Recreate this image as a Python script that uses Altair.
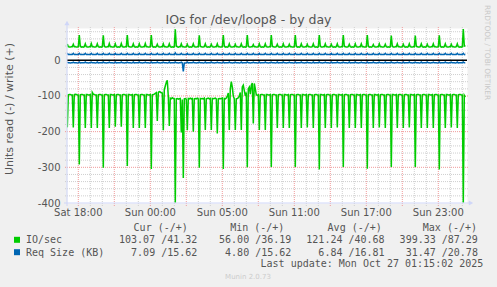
import altair as alt
import pandas as pd

# ---------------------------------------------------------------------------
# Data: one sample every 5 minutes.
# Sample index 0 is Sat 18:00 local time; the first sample is index -11.
# Each row below is one half hour (6 samples), starting with the burst sample.
# ---------------------------------------------------------------------------
FIRST_SAMPLE = -11
STEP_MINUTES = 5

io_write_rows = [
    [46, 38, 37, 37, 38, 38], [45, 38, 38, 37, 37, 38], [71, 39, 37, 38, 37, 38],
    [46, 38, 37, 37, 38, 38], [47, 38, 38, 37, 37, 38], [46, 38, 37, 38, 37, 38],
    [70, 39, 37, 37, 38, 38], [47, 38, 38, 37, 37, 38], [46, 38, 37, 38, 37, 38],
    [47, 38, 37, 37, 38, 38], [71, 39, 38, 37, 37, 38], [46, 38, 37, 38, 37, 38],
    [46, 38, 37, 37, 38, 38], [47, 38, 38, 37, 37, 38], [71, 39, 37, 38, 37, 38],
    [45, 38, 37, 37, 38, 38], [46, 38, 38, 37, 37, 38], [46, 38, 37, 38, 37, 38],
    [87, 40, 38, 37, 38, 38], [46, 38, 38, 37, 37, 38], [45, 38, 37, 38, 37, 38],
    [46, 38, 37, 37, 38, 38], [70, 39, 38, 37, 37, 38], [46, 38, 37, 38, 37, 38],
    [45, 38, 37, 37, 38, 38], [46, 38, 38, 37, 37, 38], [71, 39, 37, 38, 37, 38],
    [46, 38, 37, 37, 38, 38], [45, 38, 38, 37, 37, 38], [46, 38, 37, 38, 37, 38],
    [71, 39, 37, 37, 38, 38], [44, 38, 38, 37, 37, 38], [46, 38, 37, 38, 37, 38],
    [46, 38, 37, 37, 38, 38], [71, 39, 38, 37, 37, 38], [45, 38, 37, 38, 37, 38],
    [46, 38, 37, 37, 38, 38], [45, 38, 38, 37, 37, 38], [71, 39, 37, 38, 37, 38],
    [46, 38, 37, 37, 38, 38], [45, 38, 38, 37, 37, 38], [46, 38, 37, 38, 36.19, 38],
    [71, 39, 37, 37, 38, 38], [46, 38, 38, 37, 37, 38], [45, 38, 37, 38, 37, 38],
    [46, 38, 37, 37, 38, 38], [71, 39, 38, 37, 37, 38], [45, 38, 37, 38, 37, 38],
    [46, 38, 37, 37, 38, 38], [46, 38, 38, 37, 37, 38], [71, 39, 37, 38, 37, 38],
    [44, 38, 37, 37, 38, 38], [46, 38, 38, 37, 37, 38], [45, 38, 37, 38, 37, 38],
    [69, 39, 37, 37, 38, 38], [46, 38, 38, 37, 37, 38], [45, 38, 37, 38, 37, 38],
    [46, 38, 37, 37, 38, 38], [69, 39, 38, 37, 37, 38], [46, 38, 37, 38, 37, 38],
    [45, 38, 37, 37, 38, 38], [46, 38, 38, 37, 37, 38], [70, 39, 37, 38, 37, 38],
    [46, 38, 37, 37, 38, 38], [45, 38, 38, 37, 37, 38], [46, 38, 37, 38, 37, 38],
    [87.29, 40, 41.32],
]

io_read_rows = [
    [-188, -97, -96, -96, -97, -97], [-188, -96, -95, -96, -97, -97], [-292, -97, -96, -96, -97, -97],
    [-190, -96, -96, -97, -97, -96], [-190, -90, -95, -96, -97, -97], [-190, -97, -96, -96, -97, -97],
    [-301, -97, -96, -96, -97, -97], [-190, -96, -96, -97, -97, -96], [-186, -97, -96, -96, -97, -97],
    [-186, -97, -96, -96, -97, -97], [-296, -96, -96, -97, -97, -96], [-190, -97, -96, -96, -97, -97],
    [-190, -97, -96, -96, -97, -97], [-190, -96, -96, -97, -97, -96], [-305, -97, -96, -95, -93, -91],
    [-170, -90, -88, -89, -91, -92], [-196, -83, -72, -62, -56, -102], [-184, -106, -108, -105, -107, -108],
    [-399.33, -108, -107, -109, -108, -107], [-202, -110, -330, -108, -107, -109], [-196, -107, -108, -106, -108, -107],
    [-200, -108, -107, -108, -106, -108], [-301, -107, -108, -107, -108, -106], [-195, -108, -107, -106, -108, -107],
    [-195, -107, -108, -107, -106, -108], [-205, -108, -107, -108, -107, -106], [-305, -107, -108, -106, -100, -92],
    [-195, -80, -60, -75, -100, -108], [-195, -108, -107, -105, -100, -90], [-195, -75, -70, -85, -100, -90],
    [-300, -80, -75, -95, -70, -64], [-177, -65, -80, -97, -98, -97], [-195, -97, -96, -96, -97, -97],
    [-195, -96, -96, -97, -97, -96], [-299, -97, -96, -96, -97, -97], [-190, -97, -96, -96, -97, -97],
    [-190, -96, -96, -97, -97, -96], [-190, -97, -96, -96, -97, -97], [-299, -97, -96, -96, -97, -97],
    [-190, -96, -96, -97, -97, -96], [-188, -97, -96, -96, -97, -97], [-190, -97, -96, -96, -97, -97],
    [-306, -96, -96, -97, -97, -96], [-190, -97, -96, -96, -97, -97], [-190, -97, -96, -96, -97, -97],
    [-188, -96, -96, -97, -97, -96], [-299, -97, -96, -96, -97, -97], [-190, -97, -96, -96, -97, -97],
    [-190, -96, -96, -97, -97, -96], [-190, -97, -96, -96, -97, -97], [-304, -97, -96, -96, -97, -97],
    [-190, -96, -96, -97, -97, -96], [-188, -97, -96, -96, -97, -97], [-190, -97, -96, -96, -97, -97],
    [-299, -96, -96, -97, -97, -96], [-190, -97, -96, -96, -97, -97], [-190, -97, -96, -96, -97, -97],
    [-188, -96, -96, -97, -97, -96], [-299, -97, -96, -96, -97, -97], [-190, -97, -96, -96, -97, -97],
    [-190, -96, -96, -97, -97, -96], [-190, -97, -96, -96, -97, -97], [-306, -97, -96, -96, -97, -97],
    [-190, -96, -96, -97, -97, -96], [-188, -97, -96, -96, -97, -97], [-190, -97, -96, -96, -97, -97],
    [-399, -98, -103.07],
]

req_write_rows = [
    [19.5, 16.3, 16.3, 16.4, 16.3, 16.3], [19.4, 16.3, 16.3, 16.3, 16.4, 16.3], [19.6, 16.4, 16.3, 16.3, 16.3, 16.3],
    [19.5, 16.3, 16.3, 16.4, 16.3, 16.3], [19.4, 16.3, 16.3, 16.3, 16.4, 16.3], [19.5, 16.4, 16.3, 16.3, 16.3, 16.3],
    [19.6, 16.3, 16.3, 16.4, 16.3, 16.3], [19.5, 16.3, 16.3, 16.3, 16.4, 16.3], [19.4, 16.4, 16.3, 16.3, 16.3, 16.3],
    [19.5, 16.3, 16.3, 16.4, 16.3, 16.3], [19.6, 16.3, 16.3, 16.3, 16.4, 16.3], [19.5, 16.4, 16.3, 16.3, 16.3, 16.3],
    [19.4, 16.3, 16.3, 16.4, 16.3, 16.3], [19.5, 16.3, 16.3, 16.3, 16.4, 16.3], [19.6, 16.4, 16.3, 16.3, 16.3, 16.3],
    [19.5, 16.3, 16.3, 16.4, 16.3, 16.3], [19.4, 16.3, 16.3, 16.3, 16.4, 16.3], [19.5, 16.4, 16.3, 16.3, 16.3, 16.3],
    [20.78, 16.3, 16.3, 16.4, 16.3, 16.3], [19.5, 16.3, 16.3, 16.3, 16.4, 16.3], [19.4, 16.4, 16.3, 16.3, 16.3, 16.3],
    [19.5, 16.3, 16.3, 16.4, 16.3, 16.3], [19.6, 16.3, 16.3, 16.3, 16.4, 16.3], [19.5, 16.4, 16.3, 16.3, 16.3, 16.3],
    [19.4, 16.3, 16.3, 16.4, 16.3, 16.3], [19.5, 16.3, 16.3, 16.3, 16.4, 16.3], [19.6, 16.4, 16.3, 16.3, 16.3, 16.3],
    [19.5, 16.3, 16.3, 16.4, 16.3, 16.3], [19.4, 16.3, 16.3, 16.3, 16.4, 16.3], [19.5, 16.4, 16.3, 16.3, 16.3, 16.3],
    [19.6, 16.3, 16.3, 16.4, 16.3, 16.3], [19.5, 16.3, 16.3, 16.3, 16.4, 16.3], [19.4, 16.4, 16.3, 16.3, 16.3, 16.3],
    [19.5, 16.3, 16.3, 16.4, 16.3, 16.3], [19.6, 16.3, 16.3, 16.3, 16.4, 16.3], [19.5, 16.4, 16.3, 16.3, 16.3, 16.3],
    [19.4, 16.3, 16.3, 16.4, 16.3, 16.3], [19.5, 16.3, 16.3, 16.3, 16.4, 16.3], [19.6, 16.4, 16.3, 16.3, 16.3, 16.3],
    [19.5, 16.3, 16.3, 16.4, 16.3, 16.3], [19.4, 16.3, 16.3, 16.3, 16.4, 16.3], [19.5, 16.4, 16.3, 16.3, 16.3, 16.3],
    [19.6, 16.3, 16.3, 16.4, 16.3, 16.3], [19.5, 16.3, 16.3, 16.3, 16.4, 16.3], [19.4, 16.4, 16.3, 16.3, 16.3, 16.3],
    [19.5, 16.3, 16.3, 16.4, 16.3, 16.3], [19.6, 16.3, 16.3, 16.3, 16.4, 16.3], [19.5, 16.4, 16.3, 16.3, 16.3, 16.3],
    [19.4, 16.3, 16.3, 16.4, 16.3, 16.3], [19.5, 16.3, 16.3, 16.3, 16.4, 16.3], [19.6, 16.4, 16.3, 16.3, 16.3, 16.3],
    [19.5, 16.3, 16.3, 16.4, 16.3, 16.3], [19.4, 16.3, 16.3, 16.3, 16.4, 16.3], [19.5, 16.4, 16.3, 16.3, 16.3, 16.3],
    [19.6, 16.3, 16.3, 16.4, 16.3, 16.3], [19.5, 16.3, 16.3, 16.3, 16.4, 16.3], [19.4, 16.4, 16.3, 16.3, 16.3, 16.3],
    [19.5, 16.3, 16.3, 16.4, 16.3, 16.3], [19.6, 16.3, 16.3, 16.3, 16.4, 16.3], [19.5, 16.4, 16.3, 16.3, 16.3, 16.3],
    [19.4, 16.3, 16.3, 16.4, 16.3, 16.3], [19.5, 16.3, 16.3, 16.3, 16.4, 16.3], [19.6, 16.4, 16.3, 16.3, 16.3, 16.3],
    [19.5, 16.3, 16.3, 16.4, 16.3, 16.3], [19.4, 16.3, 16.3, 16.3, 16.4, 16.3], [19.5, 16.4, 16.3, 16.3, 16.3, 16.3],
    [19.5, 16.2, 15.62],
]

req_read_rows = [
    [-5.0, -7.2, -7.2, -7.3, -7.2, -7.2], [-5.1, -7.2, -7.2, -7.2, -7.3, -7.2], [-5.0, -7.3, -7.2, -7.2, -7.2, -7.2],
    [-5.0, -7.2, -7.2, -7.3, -7.2, -7.2], [-5.1, -7.2, -7.2, -7.2, -7.3, -7.2], [-5.0, -7.3, -7.2, -7.2, -7.2, -7.2],
    [-5.0, -7.2, -7.2, -7.3, -7.2, -7.2], [-5.1, -7.2, -7.2, -7.2, -7.3, -7.2], [-5.0, -7.3, -7.2, -7.2, -7.2, -7.2],
    [-5.0, -7.2, -7.2, -7.3, -7.2, -7.2], [-5.1, -7.2, -7.2, -7.2, -7.3, -7.2], [-5.0, -7.3, -7.2, -7.2, -7.2, -7.2],
    [-5.0, -7.2, -7.2, -7.3, -7.2, -7.2], [-5.1, -7.2, -7.2, -7.2, -7.3, -7.2], [-5.0, -7.3, -7.2, -7.2, -7.2, -7.2],
    [-5.0, -7.2, -7.2, -7.3, -7.2, -7.2], [-5.1, -7.2, -7.2, -7.2, -7.3, -7.2], [-5.0, -7.3, -7.2, -7.2, -7.2, -7.2],
    [-5.0, -7.2, -7.2, -7.3, -7.2, -7.2], [-5.1, -7.2, -31.47, -7.5, -7.3, -7.2], [-5.0, -7.3, -7.2, -7.2, -7.2, -7.2],
    [-5.0, -7.2, -7.2, -7.3, -7.2, -7.2], [-5.1, -7.2, -7.2, -7.2, -7.3, -7.2], [-5.0, -7.3, -7.2, -7.2, -7.2, -7.2],
    [-5.0, -7.2, -7.2, -7.3, -7.2, -7.2], [-5.1, -7.2, -7.2, -7.2, -7.3, -7.2], [-5.0, -7.3, -7.2, -7.2, -7.2, -7.2],
    [-5.0, -7.2, -7.2, -7.3, -7.2, -7.2], [-5.1, -7.2, -7.2, -7.2, -7.3, -7.2], [-5.0, -7.3, -7.2, -7.2, -7.2, -7.2],
    [-4.8, -7.2, -7.2, -7.3, -7.2, -7.2], [-5.1, -7.2, -7.2, -7.2, -7.3, -7.2], [-5.0, -7.3, -7.2, -7.2, -7.2, -7.2],
    [-5.0, -7.2, -7.2, -7.3, -7.2, -7.2], [-5.1, -7.2, -7.2, -7.2, -7.3, -7.2], [-5.0, -7.3, -7.2, -7.2, -7.2, -7.2],
    [-5.0, -7.2, -7.2, -7.3, -7.2, -7.2], [-5.1, -7.2, -7.2, -7.2, -7.3, -7.2], [-5.0, -7.3, -7.2, -7.2, -7.2, -7.2],
    [-5.0, -7.2, -7.2, -7.3, -7.2, -7.2], [-5.1, -7.2, -7.2, -7.2, -7.3, -7.2], [-5.0, -7.3, -7.2, -7.2, -7.2, -7.2],
    [-5.0, -7.2, -7.2, -7.3, -7.2, -7.2], [-5.1, -7.2, -7.2, -7.2, -7.3, -7.2], [-5.0, -7.3, -7.2, -7.2, -7.2, -7.2],
    [-5.0, -7.2, -7.2, -7.3, -7.2, -7.2], [-5.1, -7.2, -7.2, -7.2, -7.3, -7.2], [-5.0, -7.3, -7.2, -7.2, -7.2, -7.2],
    [-5.0, -7.2, -7.2, -7.3, -7.2, -7.2], [-5.1, -7.2, -7.2, -7.2, -7.3, -7.2], [-5.0, -7.3, -7.2, -7.2, -7.2, -7.2],
    [-5.0, -7.2, -7.2, -7.3, -7.2, -7.2], [-5.1, -7.2, -7.2, -7.2, -7.3, -7.2], [-5.0, -7.3, -7.2, -7.2, -7.2, -7.2],
    [-5.0, -7.2, -7.2, -7.3, -7.2, -7.2], [-5.1, -7.2, -7.2, -7.2, -7.3, -7.2], [-5.0, -7.3, -7.2, -7.2, -7.2, -7.2],
    [-5.0, -7.2, -7.2, -7.3, -7.2, -7.2], [-5.1, -7.2, -7.2, -7.2, -7.3, -7.2], [-5.0, -7.3, -7.2, -7.2, -7.2, -7.2],
    [-5.0, -7.2, -7.2, -7.3, -7.2, -7.2], [-5.1, -7.2, -7.2, -7.2, -7.3, -7.2], [-5.0, -7.3, -7.2, -7.2, -7.2, -7.2],
    [-5.0, -7.2, -7.2, -7.3, -7.2, -7.2], [-5.1, -7.2, -7.2, -7.2, -7.3, -7.2], [-5.0, -7.3, -7.2, -7.2, -7.2, -7.2],
    [-5.0, -7.2, -7.09],
]

# axis ticks / labels (minutes after Sat 18:00 local time; DST ends during Sunday)
x_tick_minutes = [0, 360, 720, 1080, 1440, 1800]
x_tick_labels = ["Sat 18:00", "Sun 00:00", "Sun 05:00", "Sun 11:00", "Sun 17:00", "Sun 23:00"]
y_tick_values = [0, -100, -200, -300, -400]

title_text = "IOs for /dev/loop8 - by day"
y_title_text = "Units read (-) / write (+)"
side_text = "RRDTOOL / TOBI OETIKER"
footer_text = "Munin 2.0.73"
update_text = "Last update: Mon Oct 27 01:15:02 2025"

legend_names = ["IO/sec", "Req Size (KB)"]
legend_colors = ["#00CC00", "#0066B3"]
legend_headers = ["Cur (-/+)", "Min (-/+)", "Avg (-/+)", "Max (-/+)"]
legend_cur = ["103.07 /41.32", "7.09 /15.62"]
legend_min = ["56.00 /36.19", "4.80 /15.62"]
legend_avg = ["121.24 /40.68", "6.84 /16.81"]
legend_max = ["399.33 /87.29", "31.47 /20.78"]

# ---------------------------------------------------------------------------
FONT = "DejaVu Sans"
MONO = "DejaVu Sans Mono"
TXT = "#555555"
W, H = 400, 175

X = alt.Scale(domain=[-56.5, 1943.5], nice=False, zero=False)
Y = alt.Scale(domain=[-400, 90.5], nice=False, zero=False)


def flat(rows):
    return [v for r in rows for v in r]


def series_frame(rows, name):
    vals = flat(rows)
    return pd.DataFrame({
        "t": [(FIRST_SAMPLE + i) * STEP_MINUTES for i in range(len(vals))],
        "v": vals,
        "s": name,
    })


green_df = pd.concat([series_frame(io_read_rows, "io_read"), series_frame(io_write_rows, "io_write")])
blue_df = pd.concat([series_frame(req_read_rows, "req_read"), series_frame(req_write_rows, "req_write")])

major_x = list(range(0, 1921, 180))
minor_x = [m for m in range(0, 1921, 60) if m % 180 != 0]
major_y = [-300, -200, -100]
minor_y = [v for v in range(-380, 81, 20) if v % 100 != 0]


def vgrid(vals, color):
    return alt.Chart(pd.DataFrame({"t": vals})).mark_rule(
        color=color, strokeDash=[1, 1], strokeWidth=1
    ).encode(x=alt.X("t:Q", scale=X, axis=None), y=alt.value(-1), y2=alt.value(H + 3))


def hgrid(vals, color):
    return alt.Chart(pd.DataFrame({"v": vals})).mark_rule(
        color=color, strokeDash=[1, 1], strokeWidth=1
    ).encode(y=alt.Y("v:Q", scale=Y, axis=None), x=alt.value(-2), x2=alt.value(W + 2))


def label(text, x, y, align="left", size=10, color=TXT, font=MONO, angle=0, baseline="alphabetic"):
    return alt.Chart(pd.DataFrame({"text": [text]})).mark_text(
        align=align, baseline=baseline, fontSize=size, font=font, color=color, angle=angle
    ).encode(x=alt.value(x), y=alt.value(y), text="text:N")


GRID = "#cfcfcf"
MGRID = "#f09a9a"
AXIS = "#CFD6F8"

layers = [
    vgrid(minor_x, GRID), hgrid(minor_y, GRID),
    vgrid(major_x, MGRID), hgrid(major_y, MGRID),
    alt.Chart(pd.DataFrame({"v": [0]})).mark_rule(color="#000000", strokeWidth=1.4).encode(
        y=alt.Y("v:Q", scale=Y, axis=None), x=alt.value(0), x2=alt.value(W)),
    alt.Chart(green_df).mark_line(color=legend_colors[0], strokeWidth=1.5, clip=True).encode(
        x=alt.X("t:Q", scale=X, axis=None), y=alt.Y("v:Q", scale=Y, axis=None), detail="s:N"),
    alt.Chart(blue_df).mark_line(color=legend_colors[1], strokeWidth=1.5, clip=True).encode(
        x=alt.X("t:Q", scale=X, axis=None), y=alt.Y("v:Q", scale=Y, axis=None), detail="s:N"),
    # axis lines and arrows
    alt.Chart(pd.DataFrame({"a": [0]})).mark_rule(color=AXIS, strokeWidth=1).encode(
        x=alt.value(0), y=alt.value(-4), y2=alt.value(H + 3)),
    alt.Chart(pd.DataFrame({"a": [0]})).mark_rule(color=AXIS, strokeWidth=1).encode(
        y=alt.value(H), x=alt.value(-3), x2=alt.value(W + 3)),
    alt.Chart(pd.DataFrame({"a": [0]})).mark_point(shape="triangle-up", filled=True, color=AXIS, size=26, opacity=1).encode(
        x=alt.value(0), y=alt.value(-5)),
    alt.Chart(pd.DataFrame({"a": [0]})).mark_point(shape="triangle-right", filled=True, color=AXIS, size=26, opacity=1).encode(
        x=alt.value(W + 4), y=alt.value(H)),
    # tick labels
    alt.Chart(pd.DataFrame({"t": x_tick_minutes, "label": x_tick_labels})).mark_text(
        font=FONT, fontSize=10, color=TXT, align="center", baseline="alphabetic").encode(
        x=alt.X("t:Q", scale=X, axis=None), y=alt.value(188), text="label:N"),
    alt.Chart(pd.DataFrame({"v": y_tick_values, "label": [str(v) for v in y_tick_values]})).mark_text(
        font=FONT, fontSize=10, color=TXT, align="right", baseline="alphabetic", dy=3.5).encode(
        y=alt.Y("v:Q", scale=Y, axis=None), x=alt.value(-6.5), text="label:N"),
    # titles
    label(title_text, 181.5, -4, align="center", size=12.5, font=FONT),
    label(y_title_text, -57.5, 81, align="center", size=11, font=FONT, angle=270, baseline="middle"),
    label(side_text, 420, 24.5, align="center", size=7.4, font=FONT, color="#c8c8c8", angle=90, baseline="middle"),
    label(footer_text, 181, 250.7, align="center", size=7, font=FONT, color="#cccccc"),
    # legend
    label(legend_headers[0], 66.6, 202.7),
    label(legend_headers[1], 163.2, 202.7),
    label(legend_headers[2], 260.6, 202.7),
    label(legend_headers[3], 355.8, 202.7),
    label(update_text, 416.3, 238.7, align="right"),
]

row_y = [215.3, 227.7]
for i in range(2):
    layers.append(
        alt.Chart(pd.DataFrame({"a": [0]})).mark_square(size=36, color=legend_colors[i], opacity=1).encode(
            x=alt.value(-50), y=alt.value(row_y[i] - 3.5)))
    layers.append(label(legend_names[i], -41, row_y[i]))
    layers.append(label(legend_cur[i], 130.3, row_y[i], align="right"))
    layers.append(label(legend_min[i], 224.3, row_y[i], align="right"))
    layers.append(label(legend_avg[i], 317.6, row_y[i], align="right"))
    layers.append(label(legend_max[i], 410.9, row_y[i], align="right"))

chart = alt.layer(*layers).properties(
    width=W, height=H,
    autosize=alt.AutoSizeParams(type="none"),
    padding={"left": 67, "top": 28, "right": 30, "bottom": 84},
    background="#F0F0F0",
).configure_view(fill="white", stroke="transparent")

chart.save("out.html", embed_options={"renderer": "svg", "actions": False})
